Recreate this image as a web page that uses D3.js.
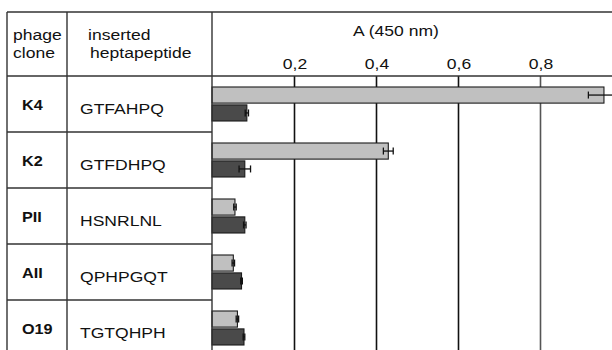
<!DOCTYPE html>
<html><head><meta charset="utf-8">
<script src="https://cdn.jsdelivr.net/npm/d3@7"></script>
<style>body{margin:0;background:#fff}svg{display:block}text{font-family:"Liberation Sans",Arial,sans-serif;fill:#111}</style>
</head><body><svg id="c" width="612" height="350"></svg>
<script>
const clones = ["K4","K2","PII","AII","O19"];
const peptides = ["GTFAHPQ","GTFDHPQ","HSNRLNL","QPHPGQT","TGTQHPH"];
const seriesNames = ["light","dark"];
const lightValues = [0.956,0.430,0.056,0.052,0.062];
const lightErrors = [0.038,0.012,0.003,0.003,0.003];
const darkValues  = [0.085,0.080,0.080,0.072,0.078];
const darkErrors  = [0.004,0.014,0.003,0.002,0.002];
const tickValues = [0.2,0.4,0.6,0.8];
const axisTitle = "A (450 nm)";
const headers = [["phage","clone"],["inserted","heptapeptide"]];

const svg = d3.select("#c");
const SX = 1.17;
const x = d3.scaleLinear().domain([0,1]).range([212,622]);
const y = d3.scaleBand().domain(clones).range([76,356]).paddingInner(0).paddingOuter(0);
const inner = d3.scaleBand().domain(seriesNames).range([11,45]).paddingInner(0.1);

function txt(s, tx, ty, opts={}) {
  return svg.append("text").text(s)
    .attr("transform",`translate(${tx},${ty}) scale(${opts.sx||SX},1)`)
    .attr("font-size", opts.size||15)
    .attr("font-weight", opts.bold?"bold":"normal")
    .attr("text-anchor", opts.anchor||"start");
}

// gridlines
const axis = d3.axisBottom(x).tickValues(tickValues).tickSize(280).tickFormat("");
const ag = svg.append("g").attr("transform","translate(0,76)").call(axis);
ag.select(".domain").remove();
ag.selectAll(".tick line").attr("stroke",(d,i)=> i===3?"#555":"#111").attr("stroke-width",1.6);
tickValues.forEach(v=>{
  txt(d3.format(".1f")(v).replace(".",","), x(v)+1, 68.5, {anchor:"middle"});
});
txt(axisTitle, 396, 36, {anchor:"middle"});

// bars
const data = clones.map((c,i)=>({c, vals:[
  {s:"light", v:lightValues[i], e:lightErrors[i]},
  {s:"dark", v:darkValues[i], e:darkErrors[i]}]}));
const colors = {light:"#c0c0c0", dark:"#4a4a4a"};
data.forEach(d=>{
  d.vals.forEach(b=>{
    const by = y(d.c)+inner(b.s), bh = inner.bandwidth();
    svg.append("rect").attr("x",x(0)).attr("y",by).attr("width",x(b.v)-x(0)).attr("height",bh)
      .attr("fill",colors[b.s]).attr("stroke","#1a1a1a").attr("stroke-width",1.1);
    const cy = by+bh/2;
    svg.append("line").attr("x1",x(b.v-b.e)).attr("x2",x(b.v+b.e)).attr("y1",cy).attr("y2",cy)
      .attr("stroke","#111").attr("stroke-width",1.3);
    [b.v-b.e,b.v+b.e].forEach(ev=>svg.append("line").attr("x1",x(ev)).attr("x2",x(ev))
      .attr("y1",cy-3.5).attr("y2",cy+3.5).attr("stroke","#111").attr("stroke-width",1.3));
  });
});

// table lines
const L = (x1,y1,x2,y2,w)=>svg.append("line").attr("x1",x1).attr("y1",y1).attr("x2",x2).attr("y2",y2)
  .attr("stroke","#333").attr("stroke-width",w||1.4);
L(7,12,612,12); L(7,76,612,76);
L(7,12,7,350); L(67,12,67,350); L(212,12,212,350);
clones.slice(1).forEach(c=>L(7,y(c),212,y(c)));

// header text
txt(headers[0][0],13,40); txt(headers[0][1],13,58);
txt(headers[1][0],88,40); txt(headers[1][1],90,58);

// row labels
clones.forEach((c,i)=>{
  txt(c,22,y(c)+34,{bold:true,sx:1.08});
  txt(peptides[i],80,y(c)+38);
});
</script></body></html>
